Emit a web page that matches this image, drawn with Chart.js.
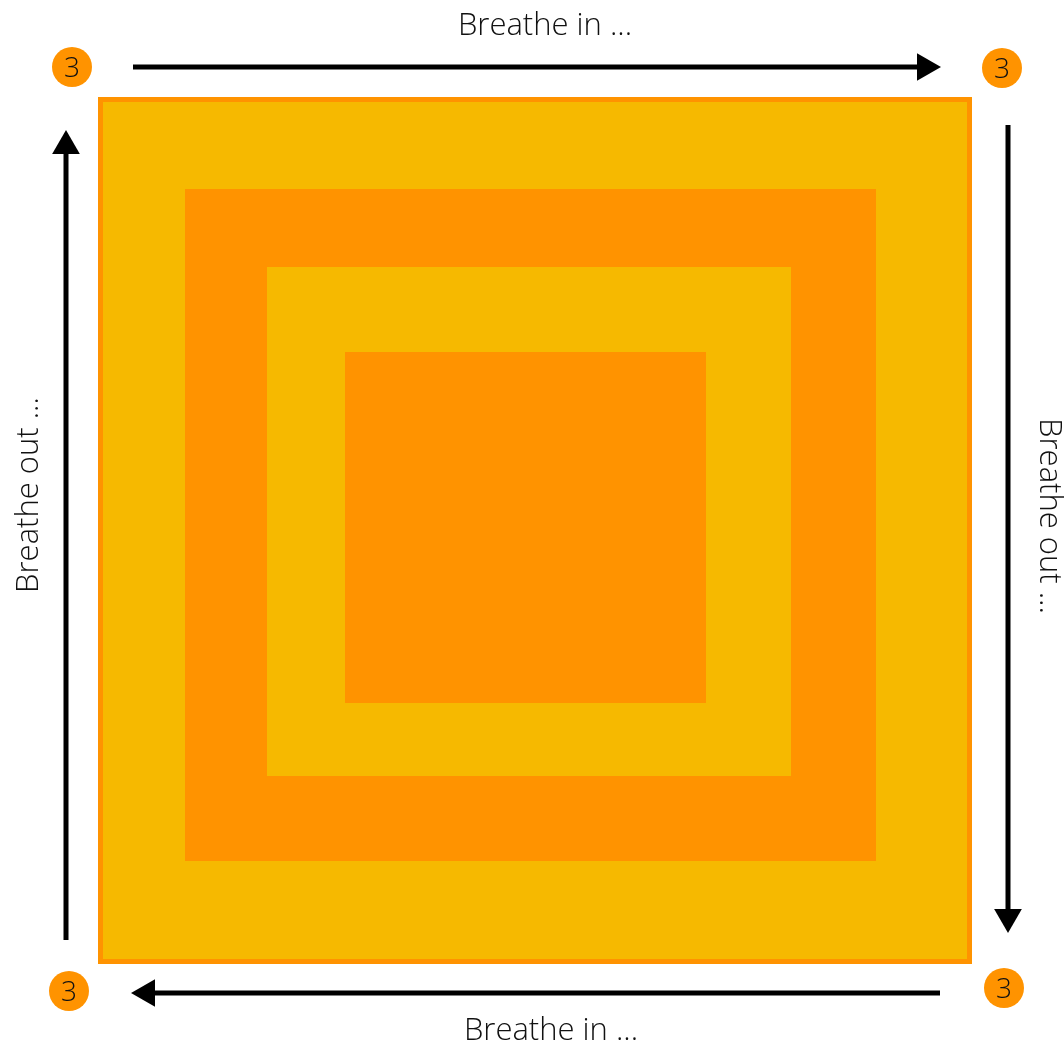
<!DOCTYPE html>
<html>
<head>
<meta charset="utf-8">
<script src="https://cdn.jsdelivr.net/npm/chart.js@4/dist/chart.umd.min.js"></script>
<style>
  html, body { margin: 0; padding: 0; background: #ffffff; }
  #wrap { width: 1064px; height: 1043px; position: relative; }
</style>
</head>
<body>
<div id="wrap"><canvas id="c"></canvas></div>
<script>
// ---- Data (plane units: x 0..1064, y 0..1043, y downwards) ----
const planeX = [0, 1064];
const planeY = [0, 1043];

// nested squares, outermost first
const squareLeft   = [98, 103, 185, 267, 345];
const squareRight  = [972, 967, 876, 791, 706];
const squareTop    = [97, 102, 189, 267, 352];
const squareBottom = [964, 959, 861, 776, 703];
const squareColors = ['#FF9300', '#F6B900', '#FF9300', '#F6B900', '#FF9300'];

// arrows: start point -> head point
const arrowStartX = [133, 1008, 940, 66];
const arrowStartY = [67, 125, 993, 940];
const arrowHeadX  = [925, 1008, 147, 66];
const arrowHeadY  = [67, 917, 993, 146];
const arrowRotation = [90, 180, 270, 0];

// corner counters
const countValues = [3, 3, 3, 3];
const countX = [72, 1002, 1004, 69];
const countY = [67, 68, 988, 991];

// side captions (anchor = baseline centre)
const captionTexts = ['Breathe in ...', 'Breathe out ...', 'Breathe in ...', 'Breathe out ...'];
const captionX = [545, 1040, 551, 38];
const captionY = [35, 516, 1040, 495];
const captionRotation = [0, 90, 0, -90];

const FONT = '"Open Sans", Lato, sans-serif';

const datasets = [];

// counters (drawn on top)
datasets.push({
  type: 'scatter',
  data: countX.map((x, i) => ({ x: x, y: countY[i] })),
  pointRadius: 20,
  pointBackgroundColor: '#FF9300',
  pointBorderWidth: 0,
  showLine: false
});

// arrows
arrowStartX.forEach((sx, i) => {
  datasets.push({
    type: 'line',
    data: [{ x: sx, y: arrowStartY[i] }, { x: arrowHeadX[i], y: arrowHeadY[i] }],
    borderColor: '#000000',
    borderWidth: 5,
    pointRadius: [0, 16],
    pointStyle: 'triangle',
    pointRotation: arrowRotation[i],
    pointBackgroundColor: '#000000',
    pointBorderWidth: 0,
    fill: false,
    tension: 0
  });
});

// squares: innermost first so that the outermost fill is painted underneath
for (let i = squareLeft.length - 1; i >= 0; i--) {
  datasets.push({
    type: 'line',
    data: [{ x: squareLeft[i], y: squareTop[i] }, { x: squareRight[i], y: squareTop[i] }],
    borderWidth: 0,
    borderColor: 'rgba(0,0,0,0)',
    backgroundColor: squareColors[i],
    pointRadius: 0,
    fill: { value: squareBottom[i] },
    tension: 0
  });
}

const textPlugin = {
  id: 'texts',
  afterDatasetsDraw(chart) {
    const ctx = chart.ctx;
    const xs = chart.scales.x, ys = chart.scales.y;
    // counter numbers
    const meta = chart.getDatasetMeta(0);
    const numSize = 28;
    ctx.save();
    ctx.fillStyle = '#111111';
    ctx.font = '300 ' + numSize + 'px ' + FONT;
    ctx.textAlign = 'center';
    ctx.textBaseline = 'alphabetic';
    meta.data.forEach((pt, i) => {
      ctx.fillText(String(countValues[i]), pt.x, pt.y + numSize * 0.357);
    });
    ctx.restore();
    // captions
    captionTexts.forEach((t, i) => {
      ctx.save();
      ctx.translate(xs.getPixelForValue(captionX[i]), ys.getPixelForValue(captionY[i]));
      ctx.rotate(captionRotation[i] * Math.PI / 180);
      ctx.fillStyle = '#111111';
      ctx.font = '300 31px ' + FONT;
      ctx.textAlign = 'center';
      ctx.textBaseline = 'alphabetic';
      ctx.fillText(t, 0, 0);
      ctx.restore();
    });
  }
};

new Chart(document.getElementById('c'), {
  type: 'line',
  data: { datasets: datasets },
  options: {
    responsive: true,
    maintainAspectRatio: false,
    animation: false,
    events: [],
    layout: { padding: 0, autoPadding: false },
    plugins: { legend: { display: false }, tooltip: { enabled: false } },
    scales: {
      x: { type: 'linear', min: planeX[0], max: planeX[1], display: false },
      y: { type: 'linear', min: planeY[0], max: planeY[1], reverse: true, display: false }
    }
  },
  plugins: [textPlugin]
});
</script>
</body>
</html>
